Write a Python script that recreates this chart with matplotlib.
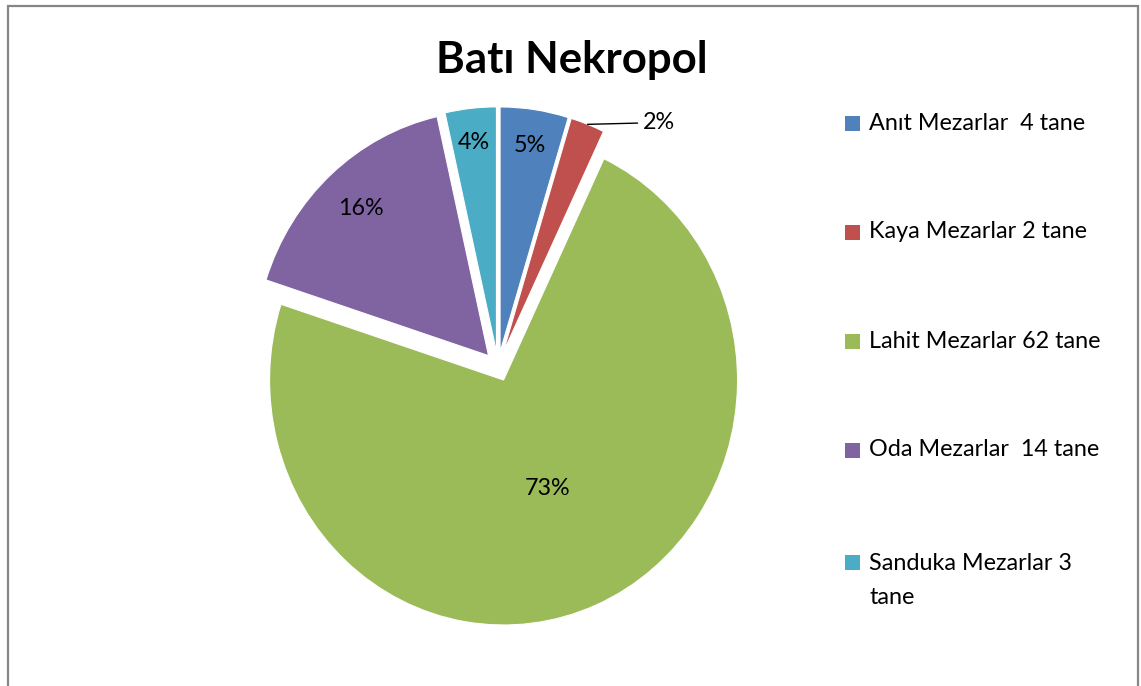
import numpy as np
import matplotlib
matplotlib.use("Agg")
import matplotlib.pyplot as plt
import matplotlib.patches as mpatches

# ---- data ----
CATEGORIES = ["Anıt Mezarlar  4 tane", "Kaya Mezarlar 2 tane", "Lahit Mezarlar 62 tane",
              "Oda Mezarlar  14 tane", "Sanduka Mezarlar 3\ntane"]
COUNTS = [4, 2, 62, 14, 3]
TITLE = "Batı Nekropol"

# ---- style ----
COLORS = ["#4F81BD", "#C0504D", "#9BBB59", "#8064A2", "#4BACC6"]
FONT = "Lato"
W, H = 1141, 686
EXPLODE = 0.06
PCT_DIST = [0.85, None, 0.48, 0.81, 0.86]   # None -> outside label with leader
FS = 16.8

fig = plt.figure(figsize=(W / 100, H / 100), dpi=100)
fig.patch.set_facecolor("white")

# outer frame (bottom edge runs past the image)
fig.patches.append(mpatches.Rectangle((8 / W, -0.05), 1130 / W, (H - 6) / H + 0.05,
                                      transform=fig.transFigure, fill=False,
                                      edgecolor="#868686", linewidth=1.6))

# axes placed so the pie is centred where the reference has it (slightly elliptical)
cx, cy, rx, ry = 498, 366.5, 234, 245
lim = 1.2
ax = fig.add_axes([(cx - lim * rx) / W, (H - cy - lim * ry) / H,
                   2 * lim * rx / W, 2 * lim * ry / H])

wedges, texts, autotexts = ax.pie(COUNTS, colors=COLORS, startangle=90, counterclock=False,
                                  explode=[EXPLODE] * len(COUNTS), autopct="%1.0f%%",
                                  wedgeprops={"edgecolor": "white", "linewidth": 0.8},
                                  textprops={"fontsize": FS, "family": FONT, "color": "black"})
ax.set_aspect("auto")
ax.set_xlim(-lim, lim)
ax.set_ylim(-lim, lim)

for w, t, d in zip(wedges, autotexts, PCT_DIST):
    ang = np.deg2rad((w.theta1 + w.theta2) / 2)
    ux, uy = np.cos(ang), np.sin(ang)
    if d is None:
        t.set_visible(False)
        r = 1 + EXPLODE
        ax.annotate(t.get_text(), xy=(r * ux, r * uy), xytext=(40, 1),
                    textcoords="offset points", ha="left", va="center",
                    fontsize=FS, family=FONT,
                    arrowprops=dict(arrowstyle="-", color="black", lw=1,
                                    relpos=(0, 0.5), shrinkA=2, shrinkB=0))
    else:
        t.set_position(((EXPLODE + d) * ux, (EXPLODE + d) * uy))
        t.set_ha("center")
        t.set_va("center")

fig.text(572 / W, 1 - 60 / H, TITLE, ha="center", va="center",
         fontsize=31.5, fontweight="bold", family=FONT)

# legend drawn by hand to mimic the spaced-out entries
leg_y = [123, 232, 341, 450, 562]
for lab, col, yy in zip(CATEGORIES, COLORS, leg_y):
    fig.patches.append(mpatches.Rectangle((845 / W, 1 - (yy + 8) / H), 15 / W, 15 / H,
                                          transform=fig.transFigure, facecolor=col,
                                          edgecolor="none"))
    if "\n" in lab:
        fig.text(869 / W, 1 - (yy - 9) / H, lab, ha="left", va="top",
                 fontsize=FS, family=FONT, linespacing=1.75)
    else:
        fig.text(869 / W, 1 - yy / H, lab, ha="left", va="center",
                 fontsize=FS, family=FONT)

fig.savefig("out.png", dpi=100, facecolor="white")
